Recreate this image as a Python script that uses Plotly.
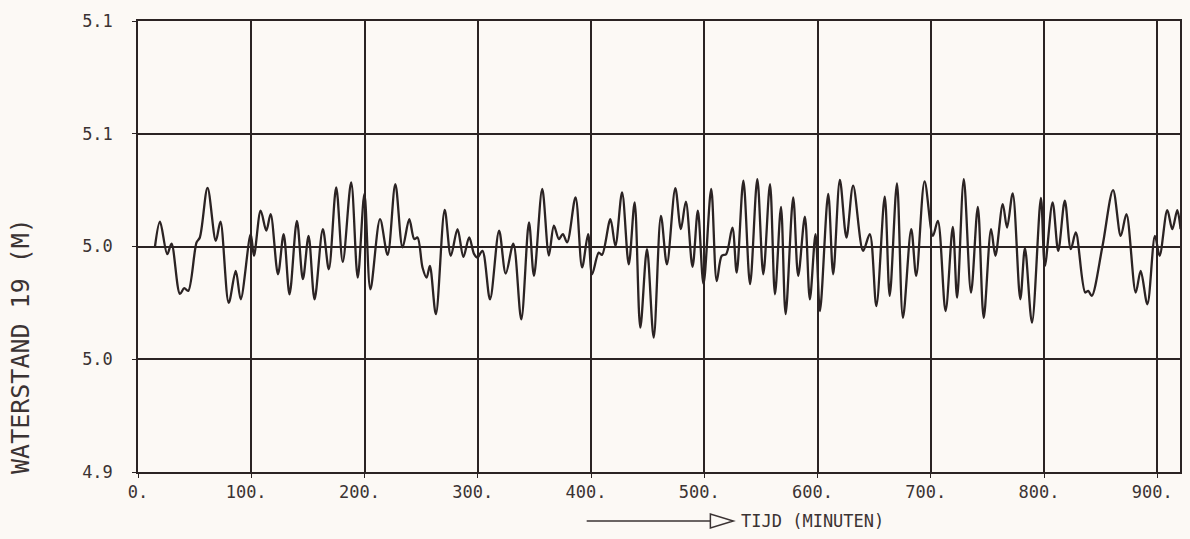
import plotly.graph_objects as go

# Time (minutes) and water level (m)
tijd = [15, 19.4, 25.8, 29.6, 37, 40.8, 44.3, 51.7, 54.6, 61.4, 68.7, 72.8, 80.1, 86.3,
        90.7, 99.5, 102.4, 108.3, 113.3, 117.1, 123.6, 128.6, 133.8, 140.3, 145.6, 150.6,
        155.9, 163.2, 168.5, 175, 180.8, 188.2, 194, 199.9, 205.2, 213.7, 220.4, 227.2,
        233.6, 239.5, 243.9, 246.8, 251.2, 254.8, 257.7, 263, 270.8, 276.2, 282.1, 287.3,
        292.4, 296.8, 299.7, 304.1, 310.8, 318.8, 324.7, 331.4, 338.4, 345.2, 349.6, 356.9,
        362.8, 367.2, 371.6, 375.1, 378.9, 386.3, 392.1, 397.4, 400.9, 406.8, 409.7, 417.1,
        421.5, 427.4, 433.3, 438.5, 443.5, 449.4, 455.3, 461.7, 467, 474.4, 479.3, 483.7,
        489.6, 494.3, 499.3, 506.1, 511, 515.4, 519.3, 524.8, 528.6, 534.5, 540.4, 546.8,
        552.1, 558, 562.4, 567.7, 571.8, 578.5, 582.9, 588.8, 593.2, 598.2, 602.1, 609.4,
        613.8, 619.7, 625.5, 631.4, 640.2, 646.1, 651.9, 659.3, 663.7, 670.1, 675.4, 682.7,
        687.1, 694.5, 701.8, 706.2, 713, 719.4, 723.2, 729.1, 735.5, 741.5, 746.7, 753.2,
        757, 763.5, 767.3, 772.3, 779, 783.1, 789.3, 797.2, 800.7, 807.5, 812.5, 818.3,
        823.6, 828, 836.3, 839, 842.1, 851.5, 860.9, 867.7, 872.7, 880.9, 885.3, 891.2,
        897.9, 902, 908.8, 913.2, 917.6, 920.5]

waterstand = [5.0000, 5.0110, 4.9966, 5.0013, 4.9790, 4.9815, 4.9803, 5.0018, 5.0040, 5.0260,
              5.0025, 5.0110, 4.9750, 4.9892, 4.9766, 5.0055, 4.9959, 5.0159, 5.0070, 5.0144,
              4.9877, 5.0055, 4.9788, 5.0114, 4.9855, 5.0047, 4.9766, 5.0077, 4.9899, 5.0262,
              4.9932, 5.0284, 4.9862, 5.0233, 4.9810, 5.0121, 4.9963, 5.0277, 4.9996, 5.0121,
              5.0033, 5.0040, 4.9907, 4.9862, 4.9914, 4.9700, 5.0162, 4.9959, 5.0077, 4.9954,
              5.0040, 4.9966, 4.9951, 4.9981, 4.9766, 5.0070, 4.9880, 5.0013, 4.9677, 5.0107,
              4.9870, 5.0255, 4.9960, 5.0092, 5.0033, 5.0055, 5.0018, 5.0218, 4.9907, 5.0055,
              4.9877, 4.9973, 4.9963, 5.0121, 5.0003, 5.0240, 4.9921, 5.0196, 4.9640, 4.9988,
              4.9596, 5.0136, 4.9921, 5.0259, 5.0077, 5.0199, 4.9910, 5.0159, 4.9833, 5.0255,
              4.9847, 4.9959, 4.9966, 5.0084, 4.9884, 5.0292, 4.9833, 5.0299, 4.9877, 5.0277,
              4.9788, 5.0176, 4.9700, 5.0218, 4.9870, 5.0132, 4.9766, 5.0055, 4.9714, 5.0233,
              4.9877, 5.0295, 5.0040, 5.0270, 4.9981, 5.0055, 4.9736, 5.0221, 4.9781, 5.0280,
              4.9684, 5.0077, 4.9870, 5.0289, 5.0047, 5.0114, 4.9714, 5.0087, 4.9773, 5.0299,
              4.9796, 5.0176, 4.9684, 5.0077, 4.9959, 5.0188, 5.0084, 5.0236, 4.9766, 4.9993,
              4.9662, 5.0215, 4.9914, 5.0196, 4.9981, 5.0203, 4.9988, 5.0062, 4.9796, 4.9803,
              4.9781, 5.0000, 5.0250, 5.0047, 5.0144, 4.9796, 4.9892, 4.9744, 5.0047, 4.9959,
              5.0161, 5.0077, 5.0161, 5.0077]

x_tick_vals = [0, 100, 200, 300, 400, 500, 600, 700, 800, 900]
x_tick_text = ["0.", "100.\u00a0", "200.\u00a0", "300.\u00a0", "400.\u00a0", "500.\u00a0",
               "600.\u00a0", "700.\u00a0", "800.\u00a0", "900.\u00a0"]
y_tick_vals = [4.90, 4.95, 5.00, 5.05, 5.10]
y_tick_text = ["4.9", "5.0", "5.0", "5.1", "5.1"]

INK = "#2b2323"
TXT = "#3b3333"
BG = "#fcf9f5"
FONT = "DejaVu Sans Mono"

fig = go.Figure()
fig.add_trace(go.Scatter(
    x=tijd, y=waterstand, mode="lines",
    line=dict(color=INK, width=2.3, shape="spline", smoothing=0.9),
    showlegend=False, hoverinfo="skip"))

fig.update_layout(
    width=1190, height=539,
    margin=dict(l=138, r=7, t=21, b=67),
    paper_bgcolor=BG, plot_bgcolor=BG,
    font=dict(family=FONT, size=16, color=TXT),
    showlegend=False,
)
fig.update_xaxes(
    range=[0, 920], tickvals=x_tick_vals, ticktext=x_tick_text,
    showgrid=True, gridcolor=INK, gridwidth=1.5,
    showline=True, linecolor=INK, linewidth=1.5, mirror=True,
    ticks="outside", ticklen=4, tickcolor=INK, zeroline=False,
    tickfont=dict(family=FONT, size=17, color=TXT),
)
fig.update_yaxes(
    range=[4.90, 5.10], tickvals=y_tick_vals, ticktext=y_tick_text,
    showgrid=True, gridcolor=INK, gridwidth=1.5,
    showline=True, linecolor=INK, linewidth=1.5, mirror=True,
    ticks="outside", ticklen=4, tickcolor=INK, zeroline=False,
    tickfont=dict(family=FONT, size=17, color=TXT), ticklabelstandoff=16,
)

# x-axis title with arrow
fig.add_shape(type="line", xref="paper", yref="paper",
              x0=0.4306, x1=0.5493, y0=-0.1086, y1=-0.1086,
              line=dict(color=TXT, width=1.5))
fig.add_shape(type="path", xref="paper", yref="paper",
              path="M 0.5493 -0.0931 L 0.5493 -0.1242 L 0.5713 -0.1086 Z",
              line=dict(color=TXT, width=1.5), fillcolor="rgba(0,0,0,0)")
fig.add_annotation(text="TIJD (MINUTEN)", xref="paper", yref="paper",
                   x=0.577, y=-0.1086, xanchor="left", yanchor="middle",
                   showarrow=False, font=dict(family=FONT, size=17, color=TXT))
fig.add_annotation(text="WATERSTAND 19 (M)", xref="paper", yref="paper",
                   x=-0.113, y=0.28, xanchor="center", yanchor="middle",
                   textangle=-90, showarrow=False,
                   font=dict(family=FONT, size=25, color=TXT))

fig.write_html(
    "out.html",
    config={"displayModeBar": False},
    post_script="document.body.style.margin='0';document.body.style.background='" + BG + "';",
)
